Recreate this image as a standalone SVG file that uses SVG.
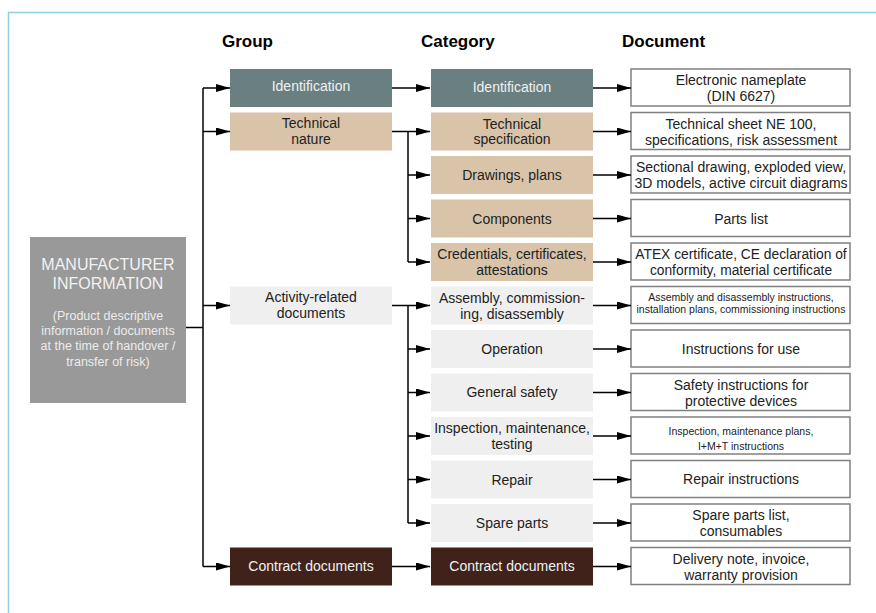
<svg xmlns="http://www.w3.org/2000/svg" width="876" height="613" viewBox="0 0 876 613">
  <defs>
    <marker id="arrow" markerUnits="userSpaceOnUse" markerWidth="15" markerHeight="8" refX="14" refY="4" orient="auto">
      <path d="M0,0 L14,4 L0,8 Z" fill="#000"/>
    </marker>
    <style>
      text { font-family: "Liberation Sans", Arial, sans-serif; text-anchor: middle; }
      .hdr { font-size: 17px; font-weight: bold; fill: #000; text-anchor: start; }
      .t { font-size: 14px; fill: #222; }
      .tw { font-size: 14px; fill: #eef2f2; }
      .small { font-size: 10.5px; fill: #222; }
      .slate { fill: #6a7f80; }
      .tan { fill: #d9c4aa; }
      .light { fill: #efefef; }
      .brown { fill: #41221a; }
      .doc { fill: #fff; stroke: #808080; stroke-width: 1.5; }
      .conn path { fill: none; stroke: #000; stroke-width: 1.5; }
      .conn .a { marker-end: url(#arrow); }
    </style>
  </defs>

  <rect width="876" height="613" fill="#fff"/>
  <!-- page frame -->
  <path d="M8.5,613 V12.5 H876" fill="none" stroke="#8ccfe0" stroke-width="1.5"/>

  <!-- column headers -->
  <text class="hdr" x="222" y="47">Group</text>
  <text class="hdr" x="421" y="47">Category</text>
  <text class="hdr" x="622" y="47">Document</text>

  <!-- root node -->
  <g id="manufacturer">
    <rect x="30" y="237" width="156" height="166" fill="#999"/>
    <text x="108" y="269.5" style="font-size:16px;fill:#f2f2f2">MANUFACTURER</text>
    <text x="108" y="288.5" style="font-size:16px;fill:#f2f2f2">INFORMATION</text>
    <text x="108" y="320" style="font-size:12.5px;fill:#ececec">(Product descriptive</text>
    <text x="108" y="335" style="font-size:12.5px;fill:#ececec">information / documents</text>
    <text x="108" y="350" style="font-size:12.5px;fill:#ececec">at the time of handover /</text>
    <text x="108" y="365.5" style="font-size:12.5px;fill:#ececec">transfer of risk)</text>
  </g>

  <!-- group column -->
  <g id="grp-identification">
    <rect class="slate" x="230" y="69" width="162" height="38"/>
    <text class="tw" x="311" y="91">Identification</text>
  </g>
  <g id="grp-technical">
    <rect class="tan" x="230" y="112.5" width="162" height="38"/>
    <text class="t" x="311" y="128">Technical</text>
    <text class="t" x="311" y="144">nature</text>
  </g>
  <g id="grp-activity">
    <rect class="light" x="230" y="286.5" width="162" height="38"/>
    <text class="t" x="311" y="302">Activity-related</text>
    <text class="t" x="311" y="318">documents</text>
  </g>
  <g id="grp-contract">
    <rect class="brown" x="230" y="547.5" width="162" height="38"/>
    <text class="tw" x="311" y="571">Contract documents</text>
  </g>

  <!-- category column -->
  <g id="cat-identification">
    <rect class="slate" x="431" y="69" width="162" height="38"/>
    <text class="tw" x="512" y="92">Identification</text>
  </g>
  <g id="cat-techspec">
    <rect class="tan" x="431" y="112.5" width="162" height="38"/>
    <text class="t" x="512" y="128.5">Technical</text>
    <text class="t" x="512" y="144">specification</text>
  </g>
  <g id="cat-drawings">
    <rect class="tan" x="431" y="156" width="162" height="38"/>
    <text class="t" x="512" y="180">Drawings, plans</text>
  </g>
  <g id="cat-components">
    <rect class="tan" x="431" y="199.5" width="162" height="38"/>
    <text class="t" x="512" y="223.5">Components</text>
  </g>
  <g id="cat-credentials">
    <rect class="tan" x="431" y="243" width="162" height="38"/>
    <text class="t" x="512" y="259">Credentials, certificates,</text>
    <text class="t" x="512" y="275">attestations</text>
  </g>
  <g id="cat-assembly">
    <rect class="light" x="431" y="286.5" width="162" height="38"/>
    <text class="t" x="512" y="302.5">Assembly, commission-</text>
    <text class="t" x="512" y="318.5">ing, disassembly</text>
  </g>
  <g id="cat-operation">
    <rect class="light" x="431" y="330" width="162" height="38"/>
    <text class="t" x="512" y="353.5">Operation</text>
  </g>
  <g id="cat-safety">
    <rect class="light" x="431" y="373.5" width="162" height="38"/>
    <text class="t" x="512" y="397">General safety</text>
  </g>
  <g id="cat-inspection">
    <rect class="light" x="431" y="417" width="162" height="38"/>
    <text class="t" x="512" y="433">Inspection, maintenance,</text>
    <text class="t" x="512" y="449">testing</text>
  </g>
  <g id="cat-repair">
    <rect class="light" x="431" y="460.5" width="162" height="38"/>
    <text class="t" x="512" y="484.5">Repair</text>
  </g>
  <g id="cat-spare">
    <rect class="light" x="431" y="504" width="162" height="38"/>
    <text class="t" x="512" y="528">Spare parts</text>
  </g>
  <g id="cat-contract">
    <rect class="brown" x="431" y="547.5" width="162" height="38"/>
    <text class="tw" x="512" y="571">Contract documents</text>
  </g>

  <!-- document column -->
  <g id="doc-nameplate">
    <rect class="doc" x="631" y="69" width="219" height="37"/>
    <text class="t" x="741" y="85">Electronic nameplate</text>
    <text class="t" x="741" y="101">(DIN 6627)</text>
  </g>
  <g id="doc-techsheet">
    <rect class="doc" x="631" y="112.5" width="219" height="37"/>
    <text class="t" x="741" y="128.5">Technical sheet NE 100,</text>
    <text class="t" x="741" y="144.5">specifications, risk assessment</text>
  </g>
  <g id="doc-drawings">
    <rect class="doc" x="631" y="156" width="219" height="37"/>
    <text class="t" x="741" y="172">Sectional drawing, exploded view,</text>
    <text class="t" x="741" y="188">3D models, active circuit diagrams</text>
  </g>
  <g id="doc-parts">
    <rect class="doc" x="631" y="199.5" width="219" height="37"/>
    <text class="t" x="741" y="223.5">Parts list</text>
  </g>
  <g id="doc-certificates">
    <rect class="doc" x="631" y="243" width="219" height="37"/>
    <text class="t" x="741" y="259" style="font-size:13.8px">ATEX certificate, CE declaration of</text>
    <text class="t" x="741" y="275" style="font-size:13.8px">conformity, material certificate</text>
  </g>
  <g id="doc-assembly">
    <rect class="doc" x="631" y="286.5" width="219" height="37"/>
    <text class="small" x="741" y="300.5">Assembly and disassembly instructions,</text>
    <text class="small" x="741" y="313">installation plans, commissioning instructions</text>
  </g>
  <g id="doc-use">
    <rect class="doc" x="631" y="330" width="219" height="37"/>
    <text class="t" x="741" y="354">Instructions for use</text>
  </g>
  <g id="doc-safety">
    <rect class="doc" x="631" y="373.5" width="219" height="37"/>
    <text class="t" x="741" y="389.5">Safety instructions for</text>
    <text class="t" x="741" y="405.5">protective devices</text>
  </g>
  <g id="doc-inspection">
    <rect class="doc" x="631" y="417" width="219" height="37"/>
    <text class="small" x="741" y="435">Inspection, maintenance plans,</text>
    <text class="small" x="741" y="449.5">I+M+T instructions</text>
  </g>
  <g id="doc-repair">
    <rect class="doc" x="631" y="460.5" width="219" height="37"/>
    <text class="t" x="741" y="483.5">Repair instructions</text>
  </g>
  <g id="doc-spare">
    <rect class="doc" x="631" y="504" width="219" height="37"/>
    <text class="t" x="741" y="520">Spare parts list,</text>
    <text class="t" x="741" y="536">consumables</text>
  </g>
  <g id="doc-delivery">
    <rect class="doc" x="631" y="547.5" width="219" height="37"/>
    <text class="t" x="741" y="563.5">Delivery note, invoice,</text>
    <text class="t" x="741" y="579.5">warranty provision</text>
  </g>

  <!-- connectors -->
  <g id="connectors" class="conn">
    <!-- root to groups -->
    <path d="M186,327.5 H203"/>
    <path d="M203,88 V566.5"/>
    <path class="a" d="M203,88 H230"/>
    <path class="a" d="M203,131.5 H230"/>
    <path class="a" d="M203,305.5 H230"/>
    <path class="a" d="M203,566.5 H230"/>

    <!-- groups to categories -->
    <path class="a" d="M392,88 H430"/>
    <path d="M392,131.5 H408 M408,131.5 V262"/>
    <path class="a" d="M408,131.5 H430"/>
    <path class="a" d="M408,175 H430"/>
    <path class="a" d="M408,218.5 H430"/>
    <path class="a" d="M408,262 H430"/>
    <path d="M392,305.5 H408 M408,305.5 V523"/>
    <path class="a" d="M408,305.5 H430"/>
    <path class="a" d="M408,349 H430"/>
    <path class="a" d="M408,392.5 H430"/>
    <path class="a" d="M408,436 H430"/>
    <path class="a" d="M408,479.5 H430"/>
    <path class="a" d="M408,523 H430"/>
    <path class="a" d="M392,566.5 H430"/>

    <!-- categories to documents -->
    <path class="a" d="M593,88 H631"/>
    <path class="a" d="M593,131.5 H631"/>
    <path class="a" d="M593,175 H631"/>
    <path class="a" d="M593,218.5 H631"/>
    <path class="a" d="M593,262 H631"/>
    <path class="a" d="M593,305.5 H631"/>
    <path class="a" d="M593,349 H631"/>
    <path class="a" d="M593,392.5 H631"/>
    <path class="a" d="M593,436 H631"/>
    <path class="a" d="M593,479.5 H631"/>
    <path class="a" d="M593,523 H631"/>
    <path class="a" d="M593,566.5 H631"/>
  </g>
</svg>
